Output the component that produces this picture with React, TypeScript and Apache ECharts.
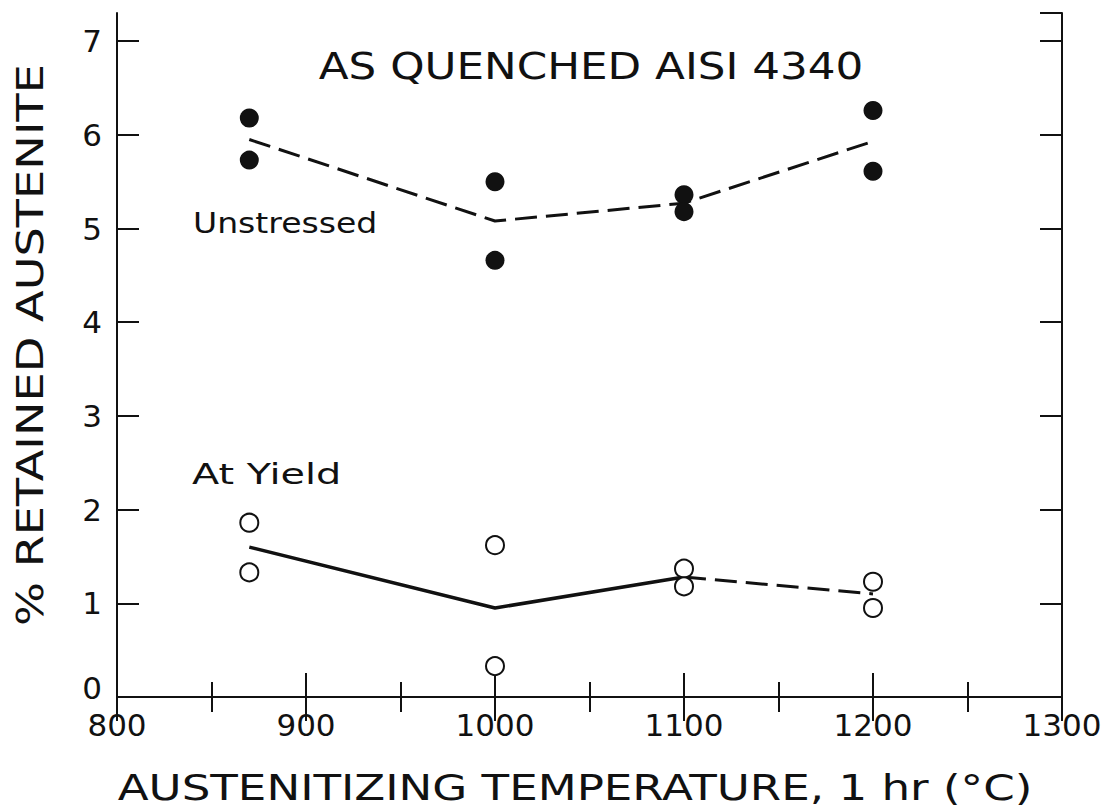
import { useEffect, useRef } from "react";
import * as echarts from "echarts";

// Austenitizing temperatures (°C) at which specimens were measured
const temps = [870, 1000, 1100, 1200];

// Unstressed specimens: two measurements per temperature, plus the averaged trend
const unstressedA = [6.18, 5.5, 5.36, 6.26];
const unstressedB = [5.73, 4.66, 5.18, 5.61];
const unstressedTrend = [5.95, 5.08, 5.27, 5.93];

// Specimens loaded to yield
const yieldA = [1.86, 1.62, 1.37, 1.23];
const yieldB = [1.33, 0.33, 1.18, 0.95];
const yieldTrendSolidTemps = [870, 1000, 1100];
const yieldTrendSolid = [1.6, 0.95, 1.28];
const yieldTrendDashedTemps = [1100, 1200];
const yieldTrendDashed = [1.28, 1.1];

// Axis ranges
const xMin = 800;
const xMax = 1300;
const xStep = 100;
const yMin = 0;
const yMax = 7.3;
const yStep = 1;

const INK = "#111111";
const FONT = "DejaVu Sans";
const TICK_FONT = 31;

const pairs = (xs: number[], ys: number[]) => xs.map((x, i) => [x, ys[i]]);

export default function App() {
  const ref = useRef<HTMLDivElement>(null);

  useEffect(() => {
    if (!ref.current) return;
    const chart = echarts.init(ref.current, undefined, { renderer: "svg" });

    const xAxisBase = {
      type: "value" as const,
      min: xMin,
      max: xMax,
      interval: xStep,
      splitLine: { show: false },
      axisLine: { show: true, lineStyle: { color: INK, width: 2 } },
      axisTick: { show: true, inside: true, length: 24, lineStyle: { color: INK, width: 2 } },
      minorTick: { show: true, splitNumber: 2, length: 15, lineStyle: { color: INK, width: 2 } },
      minorSplitLine: { show: false },
    };
    const yAxisBase = {
      type: "value" as const,
      min: yMin,
      max: yMax,
      interval: yStep,
      splitLine: { show: false },
      axisLine: { show: true, lineStyle: { color: INK, width: 2 } },
      axisTick: { show: true, inside: true, length: 22, lineStyle: { color: INK, width: 2 } },
    };

    const filledDot = {
      symbol: "circle",
      symbolSize: 19,
      itemStyle: { color: INK, opacity: 1 },
    };
    const openDot = {
      symbol: "circle",
      symbolSize: 18,
      itemStyle: { color: "#ffffff", borderColor: INK, borderWidth: 2, opacity: 1 },
    };

    chart.setOption({
      animation: false,
      backgroundColor: "#ffffff",
      grid: { left: 117, top: 13, width: 945, height: 684, containLabel: false },
      xAxis: [
        {
          ...xAxisBase,
          position: "bottom",
          axisLabel: {
            show: true,
            margin: 16,
            color: INK,
            fontFamily: FONT,
            fontSize: TICK_FONT,
            lineHeight: 24,
            formatter: (v: number) => String(v),
          },
        },
        {
          ...xAxisBase,
          position: "top",
          axisLabel: { show: false },
        },
      ],
      yAxis: [
        {
          ...yAxisBase,
          position: "left",
          axisLabel: {
            show: true,
            margin: 15,
            color: INK,
            fontFamily: FONT,
            fontSize: TICK_FONT,
            lineHeight: 22,
            showMaxLabel: false,
            // the zero label sits slightly above its tick, clear of the 800 label below
            formatter: (v: number) =>
              v === 0 ? "{zero|0}" : Number.isInteger(v) ? String(v) : "",
            rich: {
              zero: {
                fontFamily: FONT,
                fontSize: TICK_FONT,
                lineHeight: 22,
                color: INK,
                padding: [0, 0, 18, 0],
              },
            },
          },
        },
        {
          ...yAxisBase,
          position: "right",
          axisLabel: { show: false },
        },
      ],
      series: [
        {
          name: "Unstressed trend",
          type: "line",
          data: pairs(temps, unstressedTrend),
          showSymbol: false,
          lineStyle: { color: INK, width: 3, type: [22, 9] },
          z: 2,
        },
        {
          name: "At Yield trend",
          type: "line",
          data: pairs(yieldTrendSolidTemps, yieldTrendSolid),
          showSymbol: false,
          lineStyle: { color: INK, width: 3.5, type: "solid" },
          z: 2,
        },
        {
          name: "At Yield trend (dashed)",
          type: "line",
          data: pairs(yieldTrendDashedTemps, yieldTrendDashed),
          showSymbol: false,
          lineStyle: { color: INK, width: 3, type: [22, 9] },
          z: 2,
        },
        {
          name: "Unstressed",
          type: "scatter",
          data: [...pairs(temps, unstressedA), ...pairs(temps, unstressedB)],
          ...filledDot,
          z: 3,
        },
        {
          name: "At Yield",
          type: "scatter",
          data: [...pairs(temps, yieldA), ...pairs(temps, yieldB)],
          ...openDot,
          z: 3,
        },
      ],
      graphic: [
        {
          type: "text",
          x: 591,
          y: 66,
          scaleX: 1.18,
          style: {
            text: "AS QUENCHED AISI 4340",
            font: `37px "${FONT}"`,
            fill: INK,
            textAlign: "center",
            textVerticalAlign: "middle",
          },
        },
        {
          type: "text",
          x: 193,
          y: 223,
          scaleX: 1.14,
          style: {
            text: "Unstressed",
            font: `29px "${FONT}"`,
            fill: INK,
            textAlign: "left",
            textVerticalAlign: "middle",
          },
        },
        {
          type: "text",
          x: 192,
          y: 474,
          scaleX: 1.42,
          style: {
            text: "At Yield",
            font: `28px "${FONT}"`,
            fill: INK,
            textAlign: "left",
            textVerticalAlign: "middle",
          },
        },
        {
          type: "text",
          x: 575,
          y: 788,
          scaleX: 1.29,
          style: {
            text: "AUSTENITIZING TEMPERATURE, 1 hr (°C)",
            font: `35px "${FONT}"`,
            fill: INK,
            textAlign: "center",
            textVerticalAlign: "middle",
          },
        },
        {
          type: "text",
          x: 30,
          y: 345,
          rotation: Math.PI / 2,
          scaleX: 1.25,
          style: {
            text: "% RETAINED AUSTENITE",
            font: `37px "${FONT}"`,
            fill: INK,
            textAlign: "center",
            textVerticalAlign: "middle",
          },
        },
      ],
    });

    return () => chart.dispose();
  }, []);

  return (
    <div
      ref={ref}
      style={{ position: "fixed", left: 0, top: 0, width: 1118, height: 811, background: "#ffffff" }}
    />
  );
}
